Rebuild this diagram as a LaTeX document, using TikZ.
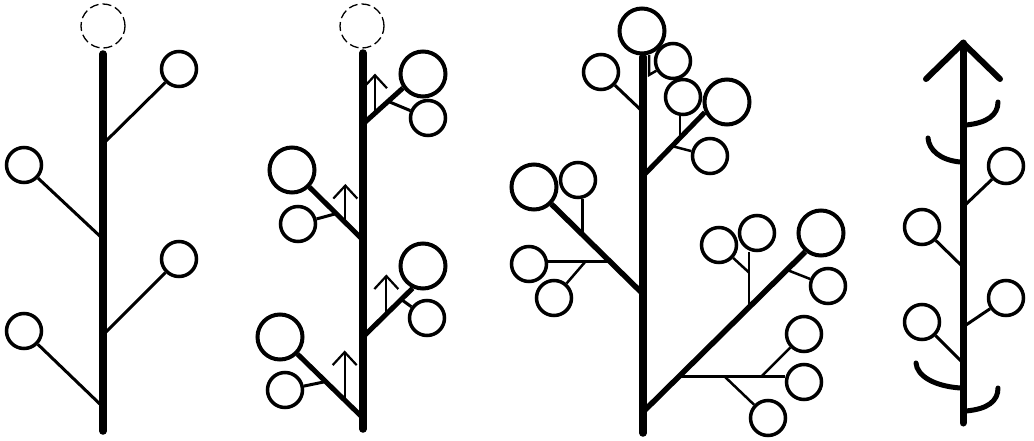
\documentclass[tikz,border=0pt]{standalone}
\usetikzlibrary{calc}
\begin{document}
\begin{tikzpicture}[x=1pt,y=-1pt,
  stemline/.style={line width=7.5pt,line cap=round},
  twig/.style={line width=3pt},
  finetwig/.style={line width=2.5pt},
  bough/.style={line width=5pt},
  bud/.style={circle,draw,line width=3.5pt,inner sep=0pt,minimum size=35pt},
  bigbud/.style={bud,line width=4pt,minimum size=45pt},
  apex/.style={circle,draw,line width=1.3pt,dash pattern=on 9pt off 4pt,inner sep=0pt,minimum size=44pt},
  growth/.style={line width=2.2pt},
  hook/.style={line width=5pt,line cap=round},
  chevron/.style={line width=6pt,line cap=round,line join=round}]
\useasboundingbox (0,0) rectangle (1034,441);

% ---------------- Tree 1 ----------------
\node[apex] (t1A) at (103,26) {};
\coordinate (t1top) at (103,54);
\coordinate (t1bot) at (103,431);
\draw[stemline] (t1top) -- (t1bot);
\node[bud] (t1r1) at (179,69) {};
\node[bud] (t1l1) at (24,165) {};
\node[bud] (t1r2) at (179,259) {};
\node[bud] (t1l2) at (24,331) {};
\coordinate (t1k1) at (103,144);
\coordinate (t1k2) at (103,239);
\coordinate (t1k3) at (103,335);
\coordinate (t1k4) at (103,407);
\draw[twig] (t1k1) -- (t1r1);
\draw[twig] (t1k2) -- (t1l1);
\draw[twig] (t1k3) -- (t1r2);
\draw[twig] (t1k4) -- (t1l2);

% ---------------- Tree 2 ----------------
\node[apex] (t2A) at (362,26) {};
\coordinate (t2top) at (363,53);
\coordinate (t2bot) at (363,429);
\draw[stemline] (t2top) -- (t2bot);
\node[bigbud] (t2B1) at (423,74) {};
\node[bud] (t2S1) at (428,118) {};
\node[bigbud] (t2B2) at (292,170) {};
\node[bud] (t2S2) at (298,224) {};
\node[bigbud] (t2B3) at (423,266) {};
\node[bud] (t2S3) at (427,318) {};
\node[bigbud] (t2B4) at (280,337) {};
\node[bud] (t2S4) at (285,390) {};
\coordinate (t2k1) at (363,124);
\coordinate (t2k2) at (363,240);
\coordinate (t2k3) at (363,337);
\coordinate (t2k4) at (363,418);
\draw[bough] (t2k1) -- (t2B1.215) coordinate[pos=0.63] (t2j1) coordinate[pos=0.3] (t2a1);
\draw[bough] (t2k2) -- (t2B2) coordinate[pos=0.5] (t2j2) coordinate[pos=0.33] (t2a2);
\draw[bough] (t2k3) -- (t2B3.245) coordinate[pos=0.77] (t2j3) coordinate[pos=0.47] (t2a3);
\draw[bough] (t2k4) -- (t2B4) coordinate[pos=0.57] (t2j4) coordinate[pos=0.28] (t2a4);
\draw[twig] (t2j1) -- (t2S1);
\draw[twig] (t2j2) -- (t2S2);
\draw[twig] (t2j3) -- (t2S3);
\draw[twig] (t2j4) -- (t2S4);
\coordinate (t2u1) at ($(t2a1)+(0,-38)$);
\coordinate (t2u2) at ($(t2a2)+(0,-37)$);
\coordinate (t2u3) at ($(t2a3)+(0,-38)$);
\coordinate (t2u4) at ($(t2a4)+(0,-48)$);
\foreach \u/\a in {t2u1/t2a1,t2u2/t2a2,t2u3/t2a3,t2u4/t2a4}{
  \draw[growth] (\a) -- (\u);
  \draw[growth] ($(\u)+(-12,13)$) -- (\u) -- ($(\u)+(12,13)$);
}

% ---------------- Tree 3 ----------------
\node[bigbud] (t3T) at (642,31) {};
\coordinate (t3top) at (643,57);
\coordinate (t3bot) at (643,433);
\draw[stemline] (t3top) -- (t3bot);
\node[bud] (t3a) at (673,61) {};
\node[bud] (t3b) at (601,72) {};
\coordinate (t3p) at (649,55);
\coordinate (t3q) at (649,75);
\draw[finetwig] (t3p) -- (t3q) -- (t3a);
\coordinate (t3k0) at (643,112);
\draw[twig] (t3k0) -- (t3b);
% upper right branch
\node[bigbud] (t3C) at (727,102) {};
\node[bud] (t3d) at (683,97) {};
\node[bud] (t3e) at (710,156) {};
\coordinate (t3k1) at (643,176);
\draw[bough] (t3k1) -- (t3C.205) coordinate[pos=0.6] (t3j1) coordinate[pos=0.47] (t3j2);
\draw[finetwig] (t3j1) -- (t3j1 |- t3d.south);
\draw[finetwig] (t3j2) -- (t3e);
% left branch
\node[bigbud] (t3F) at (534,187) {};
\node[bud] (t3g) at (578,180) {};
\node[bud] (t3h) at (529,264) {};
\node[bud] (t3i) at (554,298) {};
\coordinate (t3k2) at (643,294);
\draw[line width=5.5pt] (t3k2) -- (t3F) coordinate[pos=0.66] (t3j3) coordinate[pos=0.36] (t3j4);
\draw[finetwig] (t3j3) -- (t3j3 |- t3g.south);
\draw[finetwig] (t3j4) -- (t3j4 -| t3h.east) coordinate[pos=0.4] (t3j5);
\draw[finetwig] (t3j5) -- (t3i);
% right branch
\node[bigbud] (t3J) at (821,233) {};
\node[bud] (t3k) at (828,286) {};
\node[bud] (t3L) at (757,233) {};
\node[bud] (t3M) at (719,245) {};
\node[bud] (t3N) at (804,382) {};
\node[bud] (t3O) at (804,334) {};
\node[bud] (t3P) at (768,418) {};
\coordinate (t3k3) at (643,412);
\draw[line width=5.5pt] (t3k3) -- (t3J.230) coordinate[pos=0.887] (t3j6) coordinate[pos=0.654] (t3j7) coordinate[pos=0.222] (t3j8);
\draw[finetwig] (t3j6) -- (t3k);
\draw[finetwig] (t3j7) -- (t3j7 |- t3L.south) coordinate[pos=0.63] (t3j9);
\draw[finetwig] (t3j9) -- (t3M);
\draw[finetwig] (t3j8) -- (t3j8 -| t3N.west) coordinate[pos=0.78] (t3j10) coordinate[pos=0.43] (t3j11);
\draw[finetwig] (t3j10) -- (t3O);
\draw[finetwig] (t3j11) -- (t3P);

% ---------------- Tree 4 ----------------
\coordinate (t4tip) at (963,43);
\coordinate (t4bot) at (963,423);
\draw[stemline,line width=7pt] (t4tip) -- (t4bot);
\coordinate (t4cl) at (926,79);
\coordinate (t4cr) at (1000,79);
\draw[chevron] (t4cl) -- (t4tip) -- (t4cr);
\coordinate (t4h1s) at (966,125);
\coordinate (t4h1e) at (998,102);
\coordinate (t4h2s) at (960,162);
\coordinate (t4h2e) at (928,138);
\coordinate (t4h3s) at (960,388);
\coordinate (t4h3e) at (916,363);
\coordinate (t4h4s) at (966,411);
\coordinate (t4h4e) at (998,388);
\draw[hook] (t4h1s) .. controls (987,123) and (998,115) .. (t4h1e);
\draw[hook] (t4h2s) .. controls (940,160) and (929,150) .. (t4h2e);
\draw[hook] (t4h3s) .. controls (934,386) and (917,376) .. (t4h3e);
\draw[hook] (t4h4s) .. controls (988,409) and (998,401) .. (t4h4e);
\node[bud] (t4r1) at (1006,166) {};
\node[bud] (t4l1) at (922,227) {};
\node[bud] (t4r2) at (1006,298) {};
\node[bud] (t4l2) at (922,322) {};
\coordinate (t4k1) at (963,207);
\coordinate (t4k2) at (963,267);
\coordinate (t4k3) at (963,327);
\coordinate (t4k4) at (963,363);
\draw[twig] (t4k1) -- (t4r1);
\draw[twig] (t4k2) -- (t4l1);
\draw[twig] (t4k3) -- (t4r2);
\draw[twig] (t4k4) -- (t4l2);
\end{tikzpicture}
\end{document}
